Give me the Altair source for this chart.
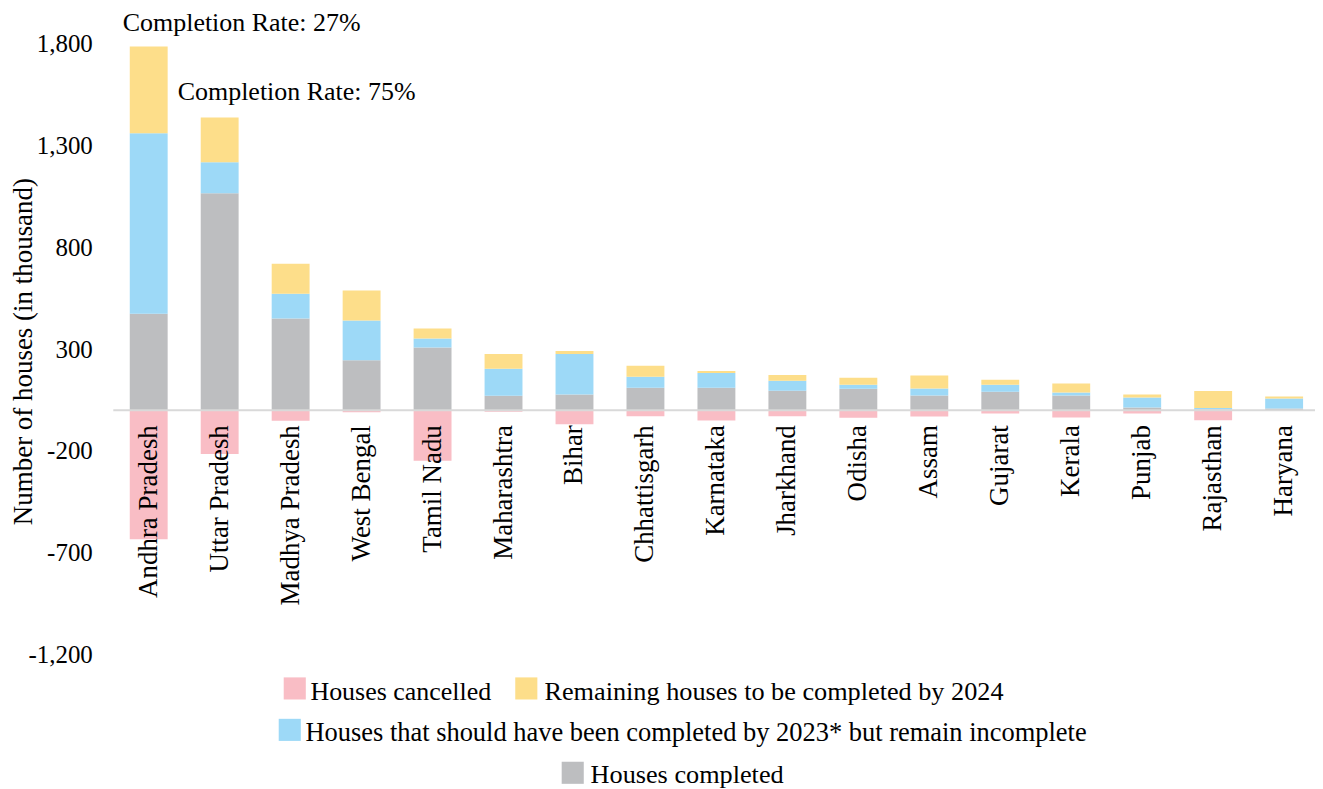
import altair as alt
import pandas as pd

states = ["Andhra Pradesh", "Uttar Pradesh", "Madhya Pradesh", "West Bengal", "Tamil Nadu",
          "Maharashtra", "Bihar", "Chhattisgarh", "Karnataka", "Jharkhand", "Odisha",
          "Assam", "Gujarat", "Kerala", "Punjab", "Rajasthan", "Haryana"]
completed = [474, 1066, 450, 245, 308, 71, 77, 110, 110, 95, 105, 72, 91, 72, 13, 3, 8]
incomplete = [886, 152, 122, 196, 44, 132, 199, 54, 73, 49, 20, 34, 34, 15, 49, 8, 49]
remaining = [426, 220, 147, 147, 49, 73, 15, 54, 10, 29, 34, 64, 24, 44, 15, 83, 10]
cancelled = [634, 215, 52, 10, 248, 8, 69, 30, 51, 30, 37, 31, 16, 36, 16, 50, 2]

series_names = ["Houses completed",
                "Houses that should have been completed by 2023* but remain incomplete",
                "Remaining houses to be completed by 2024",
                "Houses cancelled"]
series_colors = ["#BDBEC0", "#9DD9F7", "#FDDE8A", "#F9BDC5"]

y_ticks = [-1200, -700, -200, 300, 800, 1300, 1800]
ann_states = ["Andhra Pradesh", "Uttar Pradesh"]
ann_labels = ["Completion Rate: 27%", "Completion Rate: 75%"]

rows = []
for i, s in enumerate(states):
    for k, (name, vals, sign) in enumerate(zip(series_names,
                                               [completed, incomplete, remaining, cancelled],
                                               [1, 1, 1, -1])):
        rows.append({"state": s, "series": name, "value": sign * vals[i], "order": k})
df = pd.DataFrame(rows)

totals = {s: completed[i] + incomplete[i] + remaining[i] for i, s in enumerate(states)}

W, H = 1204, 612
FONT = "'Liberation Serif', 'DejaVu Serif', serif"

xscale = alt.Scale(domain=states, paddingInner=0.466, paddingOuter=0.2, align=0.58)
yscale = alt.Scale(domain=[-1200, 1800], nice=False, zero=False)

bars = alt.Chart(df).mark_bar().encode(
    x=alt.X("state:N", scale=xscale, axis=None),
    y=alt.Y("value:Q", scale=yscale, stack="zero",
            axis=alt.Axis(values=y_ticks, grid=False, domain=False, ticks=False,
                          labelPadding=21, labelFontSize=25, labelFont=FONT,
                          labelColor="black",
                          labelExpr="(datum.value < 0 ? '-' : '') + format(abs(datum.value), ',')",
                          title="Number of houses (in thousand)",
                          titleFont=FONT, titleFontSize=27, titleFontWeight="normal",
                          titleColor="black", titleAngle=270, titleAlign="center",
                          titleBaseline="middle", titleX=-90, titleY=H / 2 + 2)),
    color=alt.Color("series:N", scale=alt.Scale(domain=series_names, range=series_colors),
                    legend=None),
    order=alt.Order("order:Q"),
)

zero_df = pd.DataFrame({"v": [0]})
zero_rule = alt.Chart(zero_df).mark_rule(color="#D9D9D9", strokeWidth=2).encode(
    y=alt.Y("v:Q", scale=yscale), x=alt.value(0), x2=alt.value(W))

lab_df = pd.DataFrame({"state": states, "zero": [0] * len(states)})
cat_labels = alt.Chart(lab_df).mark_text(
    angle=270, align="right", baseline="middle", dx=-15, fontSize=27, font=FONT,
    color="black").encode(
    x=alt.X("state:N", scale=xscale), y=alt.Y("zero:Q", scale=yscale), text="state:N")

ann_layers = []
for st, lab, dx, dy in zip(ann_states, ann_labels, [-26, -42], [-16, -17]):
    adf = pd.DataFrame({"state": [st], "total": [totals[st]], "label": [lab]})
    ann_layers.append(alt.Chart(adf).mark_text(
        align="left", baseline="alphabetic", dx=dx, dy=dy, fontSize=26, font=FONT,
        color="black").encode(
        x=alt.X("state:N", scale=xscale), y=alt.Y("total:Q", scale=yscale), text="label:N"))

# custom legend (Excel-style centered rows)
leg_items = [
    ("Houses cancelled", "#F9BDC5", 181.8, 646, 197.5, 658, 26),
    ("Remaining houses to be completed by 2024", "#FDDE8A", 413.8, 646, 432, 658, 26.3),
    ("Houses that should have been completed by 2023* but remain incomplete", "#9DD9F7", 176.8, 687.5, 192.5, 698.5, 26.5),
    ("Houses completed", "#BDBEC0", 460.3, 730.5, 478.2, 740.5, 26.3),
]
one = pd.DataFrame({"k": [0]})
legend_layers = []
for lab, col, sx, sy, tx, ty, fs in leg_items:
    legend_layers.append(alt.Chart(one).mark_square(size=490, color=col, opacity=1).encode(
        x=alt.value(sx), y=alt.value(sy)))
    legend_layers.append(alt.Chart(one).mark_text(
        align="left", baseline="alphabetic", fontSize=fs, font=FONT, color="black").encode(
        x=alt.value(tx), y=alt.value(ty), text=alt.value(lab)))

chart = alt.layer(bars, zero_rule, cat_labels, *ann_layers, *legend_layers).properties(
    width=W, height=H,
    autosize=alt.AutoSizeParams(type="none"),
    padding={"left": 105.5, "top": 35, "right": 0, "bottom": 134},
    background="white",
).configure_view(stroke=None)

chart.save("out.html", embed_options={"renderer": "svg", "actions": False})
